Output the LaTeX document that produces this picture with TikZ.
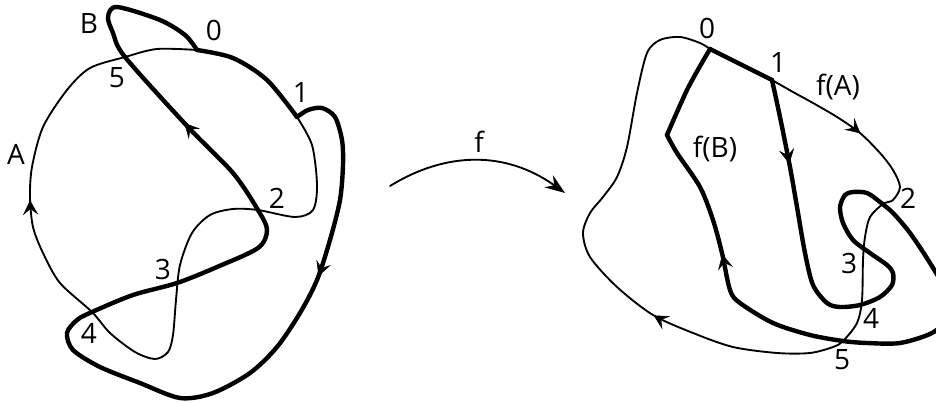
\documentclass[tikz,border=0pt]{standalone}
\usepackage{fontspec}
\setmainfont{Open Sans}
\usetikzlibrary{arrows.meta, decorations.markings}

\begin{document}
\begin{tikzpicture}[x=0.75pt,y=0.75pt,yscale=-1,xscale=1,
  thinline/.style={line width=1.4pt, line join=round, line cap=round},
  thickline/.style={line width=3.3pt, line join=round, line cap=round},
  arrowat/.style={postaction={decorate,decoration={markings,mark=at position #1 with {\arrow{Stealth[length=11pt,width=11.5pt,inset=4.5pt,line width=0.4pt]}}}}},
  lbl/.style={inner sep=0.75pt, font=\fontsize{21}{25}\selectfont}]
\useasboundingbox (0,0) rectangle (936,403);

%Curve Lines: left, arc from 0 to 1
\draw [thickline] plot [smooth] coordinates {(197,50) (233,58) (267,80) (297,117)};
%Curve Lines: left, curve B
\draw [thickline, arrowat=0.18, arrowat=0.79] plot [smooth] coordinates {(297,117) (308,110) (322,108) (335,117) (342,140) (343,165) (340,200) (330,240) (317,280) (300,313) (277,347) (250,373) (213,393) (180,398) (140,383) (100,367) (73,350) (67,333) (77,320) (92,312) (133,295) (177,283) (217,267) (258,248) (267,230) (258,210) (233,173) (188,127) (125,57) (113,33) (108,17) (117,7) (160,20) (185,35) (197,50)};
%Curve Lines: left, curve A
\draw [thinline, arrowat=0.69] plot [smooth] coordinates {(297,117) (312,145) (317,185) (313,210) (295,217) (258,210) (233,209) (210,215) (192,233) (180,265) (176,300) (173,335) (168,352) (155,359) (135,352) (110,333) (92,312) (60,283) (43,253) (33,227) (30,197) (32,167) (43,127) (67,90) (90,68) (125,57) (157,49) (197,50)};

%Curve Lines: the map f
\coordinate (fstart) at (390,186);
\coordinate (fend) at (565,193);
\draw [thinline, -{Stealth[length=15pt,width=11pt,inset=5pt]}] (fstart) .. controls (445,152) and (505,150) .. (fend);

%Straight Lines: right, from 0 to 1
\draw [thickline] (710,49) -- (772,80);
%Curve Lines: right, curve f(B)
\draw [thickline, arrowat=0.085, arrowat=0.868] plot [smooth] coordinates {(772,80) (780,117) (790,167) (797,207) (805,253) (813,285) (827,303) (840,307) (860,305) (880,297) (892,285) (893,273) (887,265) (870,253) (853,240) (843,223) (840,207) (845,195) (853,192) (867,193) (880,202) (893,213) (910,233) (930,263) (946,292) (947,318) (932,333) (900,343) (867,343) (843,341) (810,335) (773,323) (740,303) (730,290) (722,253) (713,220) (700,187) (677,153) (667,135)};
\draw [thickline] plot [smooth] coordinates {(667,135) (688,88) (710,49)};
%Curve Lines: right, curve f(A)
\draw [thinline, arrowat=0.112, arrowat=0.59] plot [smooth] coordinates {(772,80) (793,92) (813,103) (837,117) (860,133) (880,153) (893,170) (900,187) (893,200) (883,204) (870,217) (865,237) (863,260) (862,300) (857,323) (843,341) (833,347) (810,353) (777,353) (733,347) (693,333) (653,315) (617,287) (590,257) (583,233) (590,213) (603,197) (617,177) (627,147) (637,93) (647,53) (660,40) (680,37) (700,43) (710,49)};

% Text Node
\draw (89,24) node [lbl] (labB) {B};
% Text Node
\draw (214,30) node [lbl] (labzero) {0};
% Text Node
\draw (117,78) node [lbl] (labfive) {5};
% Text Node
\draw (301,93) node [lbl] (labone) {1};
% Text Node
\draw (16,154) node [lbl] (labA) {A};
% Text Node
\draw (277,198) node [lbl] (labtwo) {2};
% Text Node
\draw (163,269) node [lbl] (labthree) {3};
% Text Node
\draw (89,333) node [lbl] (labfour) {4};
% Text Node
\draw (479,142) node [lbl] (labf) {f};
% Text Node
\draw (707,28) node [lbl] (rlabzero) {0};
% Text Node
\draw (778,63) node [lbl] (rlabone) {1};
% Text Node
\draw (838,87) node [lbl] (labfA) {f(A)};
% Text Node
\draw (715,149) node [lbl] (labfB) {f(B)};
% Text Node
\draw (908,198) node [lbl] (rlabtwo) {2};
% Text Node
\draw (849,263) node [lbl] (rlabthree) {3};
% Text Node
\draw (871,318) node [lbl] (rlabfour) {4};
% Text Node
\draw (842,360) node [lbl] (rlabfive) {5};

\end{tikzpicture}
\end{document}
